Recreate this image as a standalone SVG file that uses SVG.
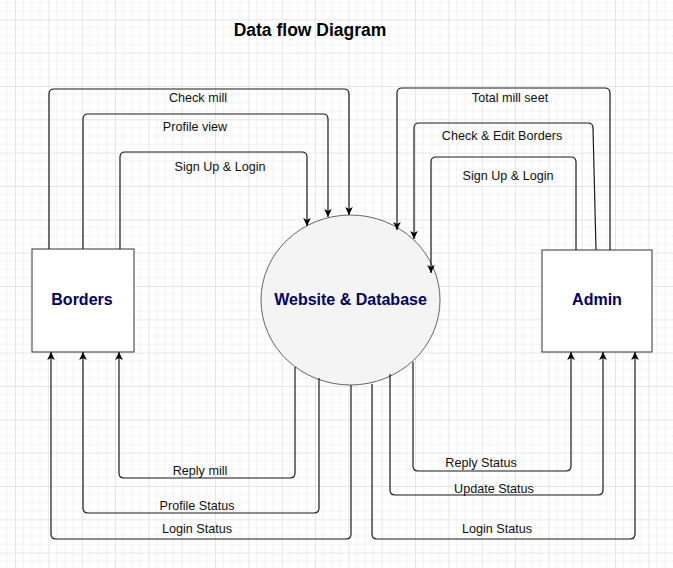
<svg xmlns="http://www.w3.org/2000/svg" width="673" height="568" viewBox="0 0 673 568">
<style>
.conn{fill:none;stroke:#1a1a1a;stroke-width:1.2;marker-end:url(#arr)}
.lbl{font-family:"Liberation Sans",Arial,sans-serif;font-size:12.6px;fill:#111;text-anchor:middle}
.node{font-family:"Liberation Sans",Arial,sans-serif;font-size:16px;font-weight:bold;fill:#000066;text-anchor:middle}
.box{fill:#fff;stroke:#333;stroke-width:1}
</style>
<defs>
<pattern id="grid" x="-18.333" y="-14" width="33.333" height="33.333" patternUnits="userSpaceOnUse">
<path d="M8.333,0V33.333M16.667,0V33.333M25,0V33.333M0,8.333H33.333M0,16.667H33.333M0,25H33.333" stroke="#f3f3f3" stroke-width="1" fill="none"/>
<path d="M0.5,0V33.333M0,0.5H33.333" stroke="#e6e6e6" stroke-width="1" fill="none"/>
</pattern>
<marker id="arr" markerUnits="userSpaceOnUse" markerWidth="10" markerHeight="10" viewBox="0 0 10 10" refX="9" refY="5" orient="auto">
<path d="M1,1.2 L9,5 L1,8.8 L3,5 z" fill="#000"/>
</marker>
</defs>
<rect width="673" height="568" fill="#fff"/>
<rect width="673" height="568" fill="url(#grid)"/>
<text x="310" y="36" font-family="Liberation Sans, Arial, sans-serif" font-size="17.5" font-weight="bold" fill="#000" text-anchor="middle">Data flow Diagram</text>
<g id="borders">
<rect class="box" x="32" y="249" width="102" height="103"/>
<text class="node" x="82" y="305">Borders</text>
</g>
<g id="website">
<ellipse cx="350.5" cy="300" rx="89.5" ry="85" fill="#f4f4f4" stroke="#666" stroke-width="1"/>
<text class="node" x="350.5" y="305">Website &amp; Database</text>
</g>
<g id="admin">
<rect class="box" x="542" y="250" width="110" height="102"/>
<text class="node" x="597" y="305">Admin</text>
</g>
<g id="connectors">
<path class="conn" d="M49,249 V94 Q49,89 54,89 H344 Q349,89 349,94 V215"/>
<path class="conn" d="M83,249 V119 Q83,114 88,114 H323 Q328,114 328,119 V217"/>
<path class="conn" d="M120,249 V157 Q120,152 125,152 H302 Q307,152 307,157 V226"/>
<path class="conn" d="M610,250 V93 Q610,88 605,88 H402 Q397,88 397,93 V230"/>
<path class="conn" d="M596,250 L593,128 Q593,123 588,123 H419 Q414,123 414,128 V239"/>
<path class="conn" d="M576,250 V162 Q576,157 571,157 H436 Q431,157 431,162 V273"/>
<path class="conn" d="M295,367 V473 Q295,478 290,478 H124 Q119,478 119,473 V352"/>
<path class="conn" d="M319,378 V508 Q319,513 314,513 H88 Q83,513 83,508 V352"/>
<path class="conn" d="M351,385 V534 Q351,539 346,539 H56 Q51,539 51,534 V352"/>
<path class="conn" d="M413,362 V466 Q413,471 418,471 H566 Q571,471 571,466 V352"/>
<path class="conn" d="M390,374 V490 Q390,495 395,495 H598 Q603,495 603,490 V352"/>
<path class="conn" d="M372,384 V534 Q372,539 377,539 H630 Q635,539 635,534 V352"/>
<text class="lbl" x="198" y="101.5">Check mill</text>
<text class="lbl" x="195" y="130.5">Profile view</text>
<text class="lbl" x="220" y="170.5">Sign Up &amp; Login</text>
<text class="lbl" x="510" y="101.5">Total mill seet</text>
<text class="lbl" x="502" y="139.5">Check &amp; Edit Borders</text>
<text class="lbl" x="508" y="179.5">Sign Up &amp; Login</text>
<text class="lbl" x="200" y="474.5">Reply mill</text>
<text class="lbl" x="197" y="509.5">Profile Status</text>
<text class="lbl" x="197" y="532.5">Login Status</text>
<text class="lbl" x="481" y="466.5">Reply Status</text>
<text class="lbl" x="494" y="492.5">Update Status</text>
<text class="lbl" x="497" y="532.5">Login Status</text>
</g>
</svg>
